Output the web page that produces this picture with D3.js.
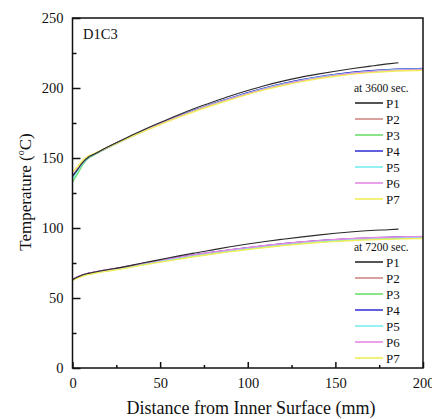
<!DOCTYPE html>
<html><head><meta charset="utf-8">
<script src="https://cdn.jsdelivr.net/npm/d3@7"></script>
<style>body{margin:0;background:#fff}svg text{font-family:"Liberation Serif","Times New Roman",serif;fill:#111}</style>
</head><body><svg id="c" width="432" height="419"></svg>
<script>
const seriesNames = ["P1","P2","P3","P4","P5","P6","P7"];
const seriesColors = ["#2a2a2a","#d08a84","#6ee06e","#3a3ad8","#7aeeee","#e48ae4","#f2ee5a"];
const xTicks = [0,50,100,150,200];
const xMinor = [25,75,125,175];
const yTicks = [0,50,100,150,200,250];
const yMinor = [25,75,125,175,225];
const xs = [0,3,6,9,12,15,20,30,40,50,60,70,80,90,100,110,120,130,140,150,160,170,180,190,200];
const xsP1 = [0,3,6,9,12,15,20,30,40,50,60,70,80,90,100,110,120,130,140,150,160,170,180,186];
// at 3600 sec.
const t3600 = {
  P1:[137,142,147,150.5,152.5,154.5,157.8,164,169.8,175.3,180.6,185.5,190,194.3,198.2,201.8,204.9,207.6,209.9,212,213.9,215.6,217.2,218],
  P2:[136.5,141.5,146.5,150.2,152.3,154.3,157.5,163.5,169,174.5,179.6,184.2,188.6,192.6,196.5,200,203,205.6,207.8,209.6,211.1,212.2,213,213.5,213.8],
  P3:[133,139,145.5,149.8,152,154,157.2,163.2,168.8,174.2,179.3,184,188.3,192.3,196.1,199.6,202.6,205.2,207.4,209.2,210.7,211.8,212.6,213.1,213.4],
  P4:[136,141.5,146.5,150.3,152.4,154.4,157.6,163.6,169.1,174.6,179.7,184.3,188.7,192.7,196.6,200.1,203.1,205.7,207.9,209.7,211.2,212.3,213.1,213.6,213.9],
  P5:[135,141,146.3,150.2,152.3,154.3,157.4,163.4,168.9,174.3,179.4,184,188.4,192.4,196.2,199.7,202.7,205.3,207.5,209.3,210.8,211.9,212.7,213.2,213.5],
  P6:[137.5,142.5,147.3,150.7,152.6,154.5,157.5,163.4,168.9,174.3,179.3,183.9,188.2,192.2,196,199.4,202.4,205,207.2,209,210.5,211.6,212.4,212.9,213.2],
  P7:[140,144,148.5,151.3,153,154.8,157.6,163.3,168.6,173.9,178.8,183.4,187.7,191.6,195.4,198.8,201.8,204.4,206.6,208.4,209.9,211,211.8,212.3,212.6]
};
// at 7200 sec.
const t7200 = {
  P1:[63,65,66.6,67.6,68.4,69.1,70.2,72.4,75,77.4,79.9,82.2,84.4,86.6,88.6,90.4,92,93.5,94.9,96.2,97.3,98.2,98.8,99.2],
  P2:[63,65,66.5,67.5,68.3,69,70,72.1,74.5,76.7,78.8,80.8,82.6,84.3,85.8,87.3,88.6,89.8,90.8,91.6,92.3,92.8,93.2,93.5,93.7],
  P3:[62.5,64.5,66,67,67.8,68.5,69.5,71.5,73.8,76,78,80,81.8,83.5,85,86.5,87.8,89,90,90.8,91.5,92,92.4,92.7,92.9],
  P4:[63,65,66.5,67.5,68.3,69,70,72.1,74.6,76.8,78.9,80.9,82.7,84.4,85.9,87.4,88.7,89.9,90.9,91.7,92.4,92.9,93.3,93.6,93.8],
  P5:[62.8,64.8,66.2,67.2,68,68.7,69.7,71.8,74.2,76.4,78.4,80.4,82.2,83.9,85.4,86.9,88.2,89.4,90.4,91.2,91.9,92.4,92.8,93.1,93.3],
  P6:[63.2,65.2,66.7,67.7,68.5,69.2,70.2,72.3,74.7,76.9,79,81,82.8,84.5,86,87.5,88.8,90,91,91.8,92.5,93,93.4,93.7,93.9],
  P7:[62.5,64.3,65.7,66.7,67.5,68.2,69.2,71.2,73.5,75.6,77.6,79.6,81.4,83.1,84.6,86.1,87.4,88.6,89.6,90.4,91.1,91.6,92,92.3,92.5]
};
const legendTitles = ["at 3600 sec.","at 7200 sec."];

const FONT = '"Liberation Serif","Times New Roman",serif';
const svg = d3.select("#c");
const L=72.5, R=423, T=18, B=368;
const x = d3.scaleLinear().domain([0,200]).range([L,R]);
const y = d3.scaleLinear().domain([0,250]).range([B,T]);

const line = d3.line().x(d=>x(d[0])).y(d=>y(d[1])).curve(d3.curveMonotoneX);

function drawGroupOrdered(data){
  const order=[1,2,3,4,5,6,0];
  order.forEach(i=>{
    const n=seriesNames[i];
    const xv = n==="P1"?xsP1:xs;
    const pts = xv.map((v,j)=>[v,data[n][j]]);
    svg.append("path").datum(pts).attr("d",line).attr("fill","none")
      .attr("stroke",seriesColors[i]).attr("stroke-width",n==="P1"?1.1:1.4);
  });
}
drawGroupOrdered(t3600);
drawGroupOrdered(t7200);

svg.append("rect").attr("x",L).attr("y",T).attr("width",R-L).attr("height",B-T)
  .attr("fill","none").attr("stroke","#111").attr("stroke-width",1.5);

const gx = svg.append("g").attr("transform",`translate(0,${B})`)
  .call(d3.axisBottom(x).tickValues(xTicks).tickSizeInner(-6).tickSizeOuter(0).tickPadding(10).tickFormat(d3.format("d")));
gx.attr("font-family",FONT);
gx.select(".domain").remove();
gx.selectAll("line").attr("stroke","#111").attr("stroke-width",1.5);
gx.selectAll("text").attr("font-size",14.5).style("font-family",FONT);
const gxm = svg.append("g").attr("transform",`translate(0,${B})`)
  .call(d3.axisBottom(x).tickValues(xMinor).tickSize(-3).tickFormat(""));
gxm.select(".domain").remove();
gxm.selectAll("line").attr("stroke","#111").attr("stroke-width",1.5);

const gy = svg.append("g").attr("transform",`translate(${L},0)`)
  .call(d3.axisLeft(y).tickValues(yTicks).tickSizeInner(-8).tickSizeOuter(0).tickPadding(9).tickFormat(d3.format("d")));
gy.attr("font-family",FONT);
gy.select(".domain").remove();
gy.selectAll("line").attr("stroke","#111").attr("stroke-width",1.5);
gy.selectAll("text").attr("font-size",14.5).style("font-family",FONT);
const gym = svg.append("g").attr("transform",`translate(${L},0)`)
  .call(d3.axisLeft(y).tickValues(yMinor).tickSize(-4).tickFormat(""));
gym.select(".domain").remove();
gym.selectAll("line").attr("stroke","#111").attr("stroke-width",1.5);

svg.append("text").attr("x",251).attr("y",414).attr("text-anchor","middle")
  .style("font-family",FONT).attr("font-size",18).text("Distance from Inner Surface (mm)");
const yl = svg.append("text").attr("transform",`translate(31,192) rotate(-90)`)
  .style("font-family",FONT).attr("text-anchor","middle").attr("font-size",17);
yl.append("tspan").text("Temperature (");
yl.append("tspan").attr("font-size",10).attr("dy",-7).text("o");
yl.append("tspan").attr("dy",7).text("C)");

svg.append("text").attr("x",83).attr("y",39).style("font-family",FONT).attr("font-size",14.5).text("D1C3");

const legendTops=[88,247];
legendTitles.forEach((t,g)=>{
  const top=legendTops[g];
  svg.append("text").attr("x",354).attr("y",top+4).style("font-family",FONT).attr("font-size",11.5).text(t);
  seriesNames.forEach((n,i)=>{
    const yy = top+15+i*16;
    svg.append("line").attr("x1",355).attr("x2",383).attr("y1",yy).attr("y2",yy)
      .attr("stroke",seriesColors[i]).attr("stroke-width",1.6);
    svg.append("text").attr("x",386).attr("y",yy+4.5).style("font-family",FONT).attr("font-size",13).text(n);
  });
});
</script></body></html>
